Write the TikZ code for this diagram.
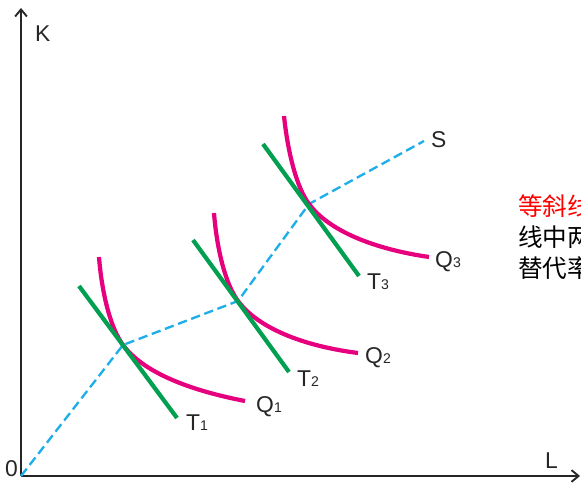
\documentclass[tikz,border=0pt]{standalone}
\usepackage{fontspec}
\setmainfont{Liberation Sans}
\newfontfamily\cjk{Noto Sans CJK SC}
\usetikzlibrary{arrows.meta}
\definecolor{isored}{RGB}{230,0,126}
\definecolor{tgreen}{RGB}{0,160,80}
\definecolor{rayblue}{RGB}{30,175,235}
\newcommand\lsub[1]{{\fontsize{12}{12}\selectfont #1}}

\begin{document}
\begin{tikzpicture}[x=0.03cm,y=-0.03cm,
                    axis/.style={line width=2.2pt,draw=black!85,-{Straight Barb[length=6pt,width=10pt,line width=1.6pt]}},
                    iso/.style={line width=3.6pt,isored},
                    tang/.style={line width=3.6pt,tgreen},
                    ray/.style={line width=2pt,rayblue,dash pattern=on 8pt off 4pt},
                    lbl/.style={inner sep=0pt,anchor=west,font=\fontsize{19.5}{19.5}\selectfont,black!85},
                    txt/.style={inner sep=0pt,anchor=west,font=\cjk\fontsize{21}{21}\selectfont}]
  \useasboundingbox (0,0) rectangle (581,486);
  % axes
  \coordinate (O)    at (21,476);
  \coordinate (Ktop) at (21,8);
  \coordinate (Lend) at (580,476);
  \draw[axis] (O) -- (Ktop);
  \draw[axis] (O) -- (Lend);
  \node[lbl] (lK) at (35,34)  {K};
  \node[lbl] (lL) at (545,461) {L};
  \node[lbl] (lO) at (5,469)  {0};
  % tangency points and ridge line
  \coordinate (P1)   at (123,345);
  \coordinate (P2)   at (238,301);
  \coordinate (P3)   at (309,204);
  \coordinate (Send) at (424,141);
  \draw[ray] (O) -- (P1) -- (P2) -- (P3) -- (Send);
  \node[lbl] (lS) at (431,140) {S};
  % isoquants
  \draw[iso,shift={(P1)}] (-24,-88) .. controls (-21,-50) and (-12,-16) .. (0,0)
                          .. controls (20,27) and (65,45) .. (122,56);
  \draw[iso,shift={(P2)}] (-24,-88) .. controls (-21,-50) and (-12,-16) .. (0,0)
                          .. controls (20,27) and (65,45) .. (120,52);
  \draw[iso,shift={(P3)}] (-25,-88) .. controls (-21,-50) and (-12,-16) .. (0,0)
                          .. controls (20,27) and (65,45) .. (120,53);
  \node[lbl] (lQ1) at (256,407) {Q\lsub{1}};
  \node[lbl] (lQ2) at (365,358) {Q\lsub{2}};
  \node[lbl] (lQ3) at (435,262) {Q\lsub{3}};
  % isocost lines
  \draw[tang,shift={(P1)}] (-44,-59) -- (54,73);
  \draw[tang,shift={(P2)}] (-45,-61) -- (51,71);
  \draw[tang,shift={(P3)}] (-46,-60) -- (50,72);
  \node[lbl] (lT1) at (186,423) {T\lsub{1}};
  \node[lbl] (lT2) at (297,379) {T\lsub{2}};
  \node[lbl] (lT3) at (367,282) {T\lsub{3}};
  % side text
  \node[txt,red] (t1) at (518,206) {等斜线};
  \node[txt]     (t2) at (518,237) {线中两};
  \node[txt]     (t3) at (518,268) {替代率};
\end{tikzpicture}
\end{document}
